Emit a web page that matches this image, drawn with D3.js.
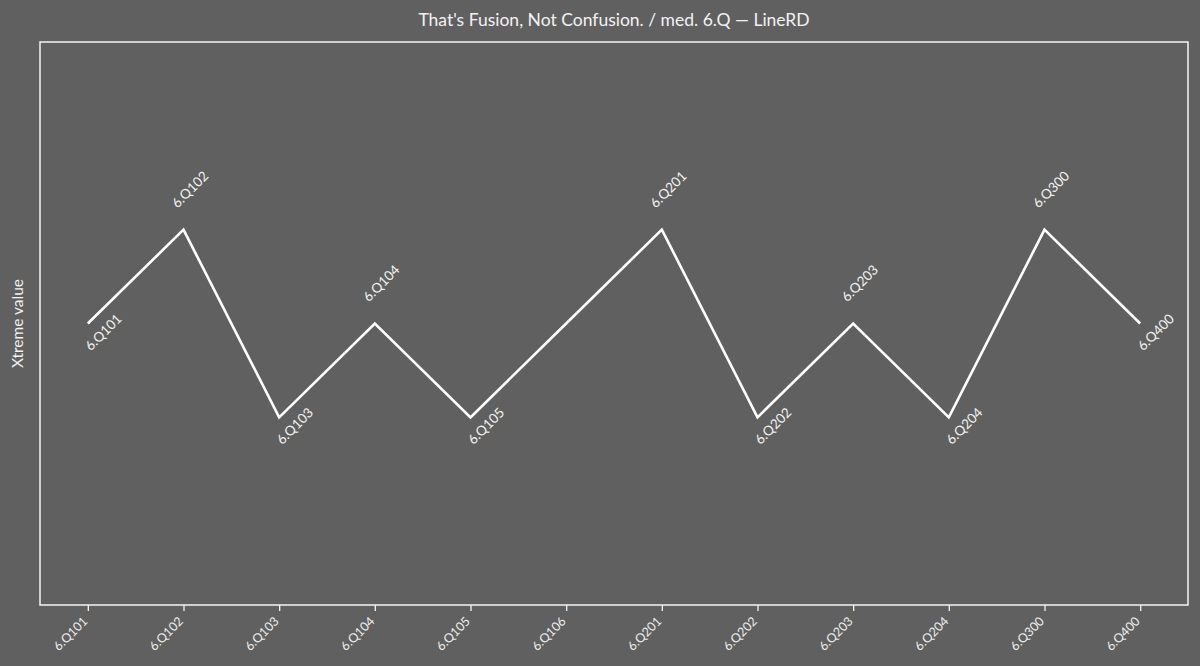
<!DOCTYPE html>
<html>
<head>
<meta charset="utf-8">
<script src="https://cdn.jsdelivr.net/npm/d3@7"></script>
<style>
  html, body { margin: 0; padding: 0; background: #606060; }
  svg { display: block; font-family: "Lato", "Open Sans", sans-serif; }
</style>
</head>
<body>
<div id="wrapper"></div>
<script>
// data
const categories = ["6.Q101", "6.Q102", "6.Q103", "6.Q104", "6.Q105", "6.Q106",
  "6.Q201", "6.Q202", "6.Q203", "6.Q204", "6.Q300", "6.Q400"]
const values = [0, 1, -1, 0, -1, 0, 1, -1, 0, -1, 1, 0]
const yDomain = [-3, 3]
const title = "That's Fusion, Not Confusion. / med. 6.Q \u2014 LineRD"
const yLabel = "Xtreme value"

function drawLine() {
  const data = categories.map((c, i) => ({ name: c, value: values[i] }))
  const xAccessor = d => d.name
  const yAccessor = d => d.value

  const dimensions = {
    width: 1200,
    height: 666,
    margin: { top: 42, right: 12, bottom: 61, left: 40 }
  }
  dimensions.boundedWidth = dimensions.width - dimensions.margin.left - dimensions.margin.right
  dimensions.boundedHeight = dimensions.height - dimensions.margin.top - dimensions.margin.bottom

  const wrapper = d3.select("#wrapper")
    .append("svg")
    .attr("width", dimensions.width)
    .attr("height", dimensions.height)

  wrapper.append("rect")
    .attr("width", dimensions.width)
    .attr("height", dimensions.height)
    .attr("fill", "#606060")

  const bounds = wrapper.append("g")
    .attr("transform", `translate(${dimensions.margin.left}, ${dimensions.margin.top})`)

  // scales
  const xScale = d3.scalePoint()
    .domain(categories)
    .range([0, dimensions.boundedWidth])
    .padding(0.5)

  const yScale = d3.scaleLinear()
    .domain(yDomain)
    .range([dimensions.boundedHeight, 0])

  // frame
  bounds.append("rect")
    .attr("width", dimensions.boundedWidth)
    .attr("height", dimensions.boundedHeight)
    .attr("fill", "none")
    .attr("stroke", "#f4f4f4")
    .attr("stroke-width", 1.5)

  // line
  const lineGenerator = d3.line()
    .x(d => xScale(xAccessor(d)))
    .y(d => yScale(yAccessor(d)))

  bounds.append("path")
    .datum(data)
    .attr("d", lineGenerator)
    .attr("fill", "none")
    .attr("stroke", "#ffffff")
    .attr("stroke-width", 2.6)
    .attr("stroke-linejoin", "miter")

  // point labels only at turning points: above for peaks, below for dips
  const side = (d, i) => {
    const prev = i > 0 ? values[i - 1] : null
    const next = i < values.length - 1 ? values[i + 1] : null
    const neighbours = [prev, next].filter(v => v !== null)
    if (neighbours.every(v => v < d.value)) return "above"
    if (neighbours.every(v => v > d.value)) return "below"
    return "none"
  }

  bounds.selectAll(".point-label")
    .data(data.map((d, i) => ({ ...d, side: side(d, i) })).filter(d => d.side !== "none"))
    .join("text")
    .attr("class", "point-label")
    .attr("transform", d => {
      const x = xScale(xAccessor(d)) + (d.side === "above" ? -6 : 3)
      const y = yScale(yAccessor(d)) + (d.side === "above" ? -21 : 28)
      return `translate(${x}, ${y}) rotate(-45)`
    })
    .attr("fill", "#f2f2f2")
    .style("font-size", "13.5px")
    .text(d => d.name)

  // x axis
  const xAxisGenerator = d3.axisBottom()
    .scale(xScale)
    .tickSize(6)
    .tickSizeOuter(0)

  const xAxis = bounds.append("g")
    .attr("transform", `translate(0, ${dimensions.boundedHeight})`)
    .call(xAxisGenerator)

  xAxis.select(".domain").remove()
  xAxis.selectAll(".tick line")
    .attr("stroke", "#f4f4f4")
    .attr("stroke-width", 1.3)
  xAxis.selectAll(".tick text")
    .attr("fill", "#eeeeee")
    .attr("y", 0)
    .attr("dy", 0)
    .style("font-size", "12.5px")
    .style("font-family", "Lato, 'Open Sans', sans-serif")
    .attr("text-anchor", "end")
    .attr("transform", "translate(0, 17) rotate(-45)")

  // y axis label
  wrapper.append("text")
    .attr("transform", `translate(23, ${dimensions.margin.top + dimensions.boundedHeight / 2}) rotate(-90)`)
    .attr("text-anchor", "middle")
    .attr("fill", "#f2f2f2")
    .style("font-size", "15.5px")
    .text(yLabel)

  // title
  wrapper.append("text")
    .attr("x", dimensions.margin.left + dimensions.boundedWidth / 2)
    .attr("y", 26)
    .attr("text-anchor", "middle")
    .attr("fill", "#f2f2f2")
    .style("font-size", "17.5px")
    .text(title)
}
drawLine()
</script>
</body>
</html>
